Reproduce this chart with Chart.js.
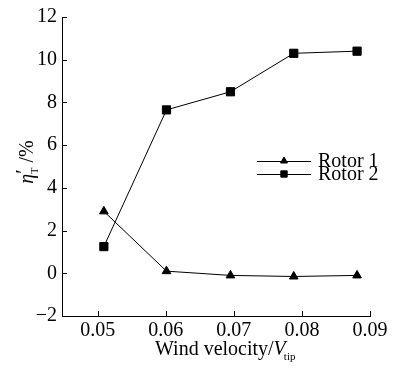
<!DOCTYPE html>
<html>
<head>
<meta charset="utf-8">
<script src="https://cdn.jsdelivr.net/npm/chart.js@4/dist/chart.umd.min.js"></script>
<style>
  html, body { margin: 0; padding: 0; background: #fff; }
  #wrap { width: 399px; height: 368px; }
</style>
</head>
<body>
<div id="wrap"><canvas id="chart" width="399" height="368"></canvas></div>
<script>
// values
const windVelocity = [0.0509, 0.0601, 0.0695, 0.0788, 0.0881];
const rotor1 = [2.9, 0.1, -0.1, -0.15, -0.1];
const rotor2 = [1.25, 7.65, 8.5, 10.3, 10.4];
const xTicks = [0.05, 0.06, 0.07, 0.08, 0.09];
const yTicks = [-2, 0, 2, 4, 6, 8, 10, 12];

const FONT = '"Liberation Serif", "Times New Roman", serif';
const SIZE = 20;

// inward tick marks, axis titles with sub/superscripts, and the legend
const decorations = {
  id: 'decorations',
  afterDraw(chart) {
    const { ctx, chartArea: a, scales } = chart;
    ctx.save();
    ctx.strokeStyle = '#000';
    ctx.lineWidth = 1;
    ctx.beginPath();
    scales.x.ticks.forEach(t => {
      const px = Math.round(scales.x.getPixelForValue(t.value)) + 0.5;
      ctx.moveTo(px, a.bottom);
      ctx.lineTo(px, a.bottom - 5);
    });
    scales.y.ticks.forEach(t => {
      const py = Math.round(scales.y.getPixelForValue(t.value)) + 0.5;
      ctx.moveTo(a.left, py);
      ctx.lineTo(a.left + 5, py);
    });
    ctx.stroke();

    // x title: Wind velocity/V_tip
    ctx.fillStyle = '#000';
    ctx.textBaseline = 'alphabetic';
    ctx.textAlign = 'left';
    const part1 = 'Wind velocity/';
    ctx.font = SIZE + 'px ' + FONT;
    const w1 = ctx.measureText(part1).width;
    ctx.font = 'italic ' + SIZE + 'px ' + FONT;
    const w2 = ctx.measureText('V').width;
    ctx.font = '11px ' + FONT;
    const w3 = ctx.measureText('tip').width;
    const x0 = 155;
    const yb = 355;
    ctx.font = SIZE + 'px ' + FONT;
    ctx.fillText(part1, x0, yb);
    ctx.font = 'italic ' + SIZE + 'px ' + FONT;
    ctx.fillText('V', x0 + w1, yb);
    ctx.font = '11px ' + FONT;
    ctx.fillText('tip', x0 + w1 + w2 - 2, yb + 5);

    // y title: eta'_T /%
    ctx.translate(27, 161);
    ctx.rotate(-Math.PI / 2);
    ctx.font = 'italic ' + SIZE + 'px ' + FONT;
    const e = 'η';
    const ew = ctx.measureText(e).width;
    ctx.font = SIZE + 'px ' + FONT;
    const pw = ctx.measureText('′').width;
    const rest = ' /%';
    const rw = ctx.measureText(rest).width;
    const sx = -(ew + pw + rw + 4) / 2;
    ctx.font = 'italic ' + SIZE + 'px ' + FONT;
    ctx.fillText(e, sx, 6);
    ctx.font = SIZE + 'px ' + FONT;
    ctx.fillText('′', sx + ew, 3);
    ctx.font = '10px ' + FONT;
    ctx.fillText('T', sx + ew, 11);
    ctx.font = SIZE + 'px ' + FONT;
    ctx.fillText(rest, sx + ew + pw + 2, 6);
    ctx.restore();

    // legend
    ctx.save();
    ctx.strokeStyle = '#000';
    ctx.fillStyle = '#000';
    ctx.lineWidth = 1;
    ctx.font = SIZE + 'px ' + FONT;
    ctx.textBaseline = 'middle';
    const lx = 257, lw = 54;
    chart.data.datasets.forEach((ds, i) => {
      const ly = 161 + i * 13;
      ctx.beginPath();
      ctx.moveTo(lx, ly + 0.5);
      ctx.lineTo(lx + lw, ly + 0.5);
      ctx.stroke();
      Chart.helpers.drawPoint(ctx, {
        pointStyle: ds.pointStyle,
        radius: ds.pointStyle === 'triangle' ? 4 : 4.5,
        borderWidth: 1
      }, lx + lw / 2, ly);
      ctx.fillText(ds.label, lx + lw + 7, ly + 1);
    });
    ctx.restore();
  }
};

new Chart(document.getElementById('chart'), {
  type: 'line',
  data: {
    datasets: [
      {
        label: 'Rotor 1',
        data: windVelocity.map((x, i) => ({ x, y: rotor1[i] })),
        borderColor: '#000',
        backgroundColor: '#000',
        borderWidth: 1,
        pointStyle: 'triangle',
        pointRadius: 5,
        tension: 0
      },
      {
        label: 'Rotor 2',
        data: windVelocity.map((x, i) => ({ x, y: rotor2[i] })),
        borderColor: '#000',
        backgroundColor: '#000',
        borderWidth: 1,
        pointStyle: 'rect',
        pointRadius: 5.8,
        tension: 0
      }
    ]
  },
  options: {
    responsive: false,
    animation: false,
    layout: { padding: { top: 15, right: 29, left: 0, bottom: 0 } },
    plugins: {
      legend: { display: false },
      tooltip: { enabled: false }
    },
    scales: {
      x: {
        type: 'linear',
        min: 0.04475,
        max: 0.09,
        afterBuildTicks: s => { s.ticks = xTicks.map(v => ({ value: v })); },
        afterFit: s => { s.height = 52; },
        grid: { display: false, drawTicks: false },
        border: { display: true, color: '#000', width: 1 },
        ticks: {
          color: '#000',
          padding: 3,
          font: { family: FONT, size: SIZE },
          callback: v => v.toFixed(2)
        }
      },
      y: {
        min: -2,
        max: 12,
        afterBuildTicks: s => { s.ticks = yTicks.map(v => ({ value: v })); },
        afterFit: s => { s.width = 62; },
        grid: { display: false, drawTicks: false },
        border: { display: true, color: '#000', width: 1 },
        ticks: {
          color: '#000',
          padding: 5,
          font: { family: FONT, size: SIZE },
          callback: v => (v < 0 ? '\u2212' + Math.abs(v) : String(v))
        }
      }
    }
  },
  plugins: [decorations]
});
</script>
</body>
</html>
